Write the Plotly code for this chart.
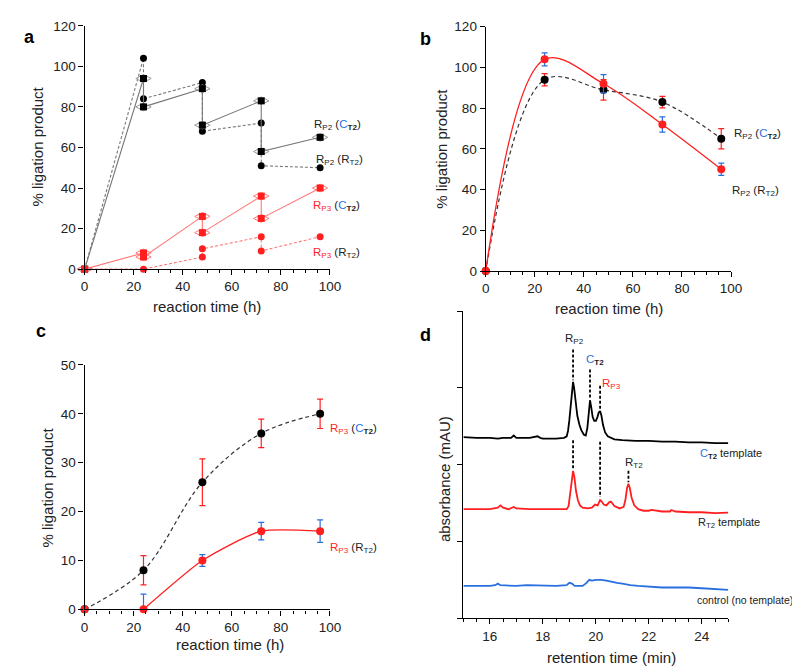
import plotly.graph_objects as go

FONT = 'Liberation Sans, Arial, sans-serif'
RED = '#ff1f1f'
LIGHT_RED = '#ff7a7a'
GREY = '#777777'
BLUE = '#2a6fe0'

# panel a: each time point is visited twice (zigzag)
a_sq_black_t = [0, 24, 24, 48, 48, 72, 72, 96]
a_sq_black_y = [0, 94, 80, 89, 71, 83, 58, 65]
a_ci_black_t = [0, 24, 24, 48, 48, 72, 72, 96]
a_ci_black_y = [0, 104, 84, 92, 68, 72, 51, 50]
a_sq_red_t = [0, 24, 24, 48, 48, 72, 72, 96]
a_sq_red_y = [0, 8, 6, 26, 18, 36, 25, 40]
a_ci_red_t = [0, 24, 48, 48, 72, 72, 96]
a_ci_red_y = [0, 0, 6, 10, 16, 9, 16]

# panel b
b_t = [0, 24, 48, 72, 96]
b_ct2 = [0, 94, 89, 83, 65]
b_ct2_err = [0, 3, 5, 2.8, 5]
b_rt2 = [0, 104, 92, 72, 50]
b_rt2_err = [0, 3.2, 4.5, 3.7, 3]

# panel c
c_t = [0, 24, 48, 72, 96]
c_ct2 = [0, 8, 26, 36, 40]
c_ct2_err = [0, 3, 4.8, 2.9, 3]
c_rt2_t = [24, 48, 72, 96]
c_rt2 = [0, 10, 16, 16]
c_rt2_err_plus = [3.1, 1.2, 1.8, 2.3]
c_rt2_err_minus = [0, 1.2, 1.8, 2.3]

# panel d chromatograms (retention time in min, absorbance in arbitrary units)
d_black_t = [15.0, 15.5, 16.0, 16.3, 16.5, 16.8, 16.9, 17.0, 17.5, 17.8, 17.9, 18.0,
             18.5, 18.8, 18.9, 18.95, 19.0, 19.05, 19.1, 19.14, 19.18, 19.23, 19.3,
             19.38, 19.45, 19.55, 19.62, 19.68, 19.73, 19.78, 19.83, 19.88, 19.94,
             20.0, 20.06, 20.11, 20.16, 20.21, 20.27, 20.35, 20.45, 20.55, 20.7,
             21.0, 21.5, 22.0, 22.5, 23.0, 23.5, 24.0, 24.5, 25.0]
d_black_y = [2.36, 2.35, 2.35, 2.34, 2.35, 2.35, 2.38, 2.35, 2.35, 2.37, 2.35, 2.34,
             2.34, 2.35, 2.37, 2.44, 2.58, 2.80, 3.00, 3.08, 3.00, 2.82, 2.64,
             2.52, 2.45, 2.39, 2.38, 2.48, 2.68, 2.84, 2.74, 2.62, 2.57,
             2.57, 2.62, 2.68, 2.70, 2.64, 2.52, 2.42, 2.37, 2.35, 2.33,
             2.32, 2.31, 2.31, 2.30, 2.30, 2.29, 2.29, 2.28, 2.28]
d_red_t = [15.0, 15.5, 16.0, 16.3, 16.4, 16.5, 16.7, 16.9, 17.0, 17.5, 18.0, 18.5,
           18.9, 18.97, 19.03, 19.08, 19.14, 19.19, 19.25, 19.32, 19.4, 19.5, 19.7,
           19.85, 19.97, 20.07, 20.16, 20.22, 20.3, 20.4, 20.5, 20.57, 20.7, 20.9,
           21.05, 21.12, 21.18, 21.23, 21.28, 21.35, 21.45, 21.6, 21.8, 22.0, 22.1,
           22.5, 22.8, 22.85, 23.0, 23.5, 24.0, 24.5, 25.0]
d_red_y = [1.42, 1.42, 1.42, 1.44, 1.47, 1.44, 1.42, 1.45, 1.43, 1.42, 1.42, 1.42,
           1.42, 1.46, 1.62, 1.82, 1.92, 1.84, 1.66, 1.54, 1.47, 1.44, 1.43,
           1.44, 1.48, 1.47, 1.54, 1.52, 1.48, 1.47, 1.51, 1.52, 1.46, 1.43,
           1.45, 1.55, 1.70, 1.75, 1.70, 1.57, 1.47, 1.42, 1.40, 1.40, 1.41,
           1.39, 1.39, 1.41, 1.39, 1.38, 1.38, 1.37, 1.375]
d_blue_t = [15.0, 15.5, 16.0, 16.2, 16.3, 16.4, 16.8, 17.0, 17.4, 18.0, 18.5, 18.9,
            19.0, 19.1, 19.2, 19.5, 19.65, 19.75, 19.85, 20.0, 20.2, 20.4, 20.6,
            20.8, 21.0, 21.3, 21.6, 22.0, 22.5, 23.0, 23.5, 24.0, 24.5, 25.0]
d_blue_y = [0.42, 0.42, 0.42, 0.43, 0.45, 0.43, 0.42, 0.42, 0.43, 0.42, 0.42, 0.43,
            0.46, 0.45, 0.42, 0.42, 0.46, 0.50, 0.49, 0.50, 0.50, 0.49, 0.47,
            0.46, 0.45, 0.43, 0.42, 0.41, 0.40, 0.40, 0.40, 0.39, 0.38, 0.37]

# peak marker dashed lines in d: (time, y from, y to)
d_peak_lines = [(19.14, 3.50, 3.10), (19.14, 2.32, 1.95), (19.78, 3.24, 2.86),
                (20.16, 3.03, 2.72), (20.16, 2.30, 1.58), (21.23, 1.92, 1.77)]

fig = go.Figure()


def sq_trace(t, y, line_col, mark_col, ring_col, dash, xa, ya, symbol):
    # eye-shaped outline behind the marker
    if ring_col:
        fig.add_trace(go.Scatter(
            x=t, y=y, mode='markers', xaxis=xa, yaxis=ya, cliponaxis=False,
            marker=dict(symbol='diamond-wide-open', size=11, color=ring_col,
                        line=dict(width=1, color=ring_col)),
            showlegend=False, hoverinfo='skip'))
    fig.add_trace(go.Scatter(
        x=t, y=y, mode='lines+markers', xaxis=xa, yaxis=ya, cliponaxis=False,
        line=dict(color=line_col, width=1.1, dash=dash),
        marker=dict(symbol=symbol, size=7, color=mark_col),
        showlegend=False))


# panel a
sq_trace(a_ci_black_t, a_ci_black_y, GREY, 'black', None, '3px,2px', 'x', 'y', 'circle')
sq_trace(a_sq_black_t, a_sq_black_y, GREY, 'black', '#999999', 'solid', 'x', 'y', 'square')
sq_trace(a_ci_red_t, a_ci_red_y, LIGHT_RED, RED, None, '3px,2px', 'x', 'y', 'circle')
sq_trace(a_sq_red_t, a_sq_red_y, LIGHT_RED, RED, LIGHT_RED, 'solid', 'x', 'y', 'square')

# panel b
fig.add_trace(go.Scatter(
    x=b_t, y=b_ct2, mode='lines+markers', xaxis='x2', yaxis='y2', cliponaxis=False,
    line=dict(color='#333333', width=1.2, dash='4px,3px', shape='spline'),
    marker=dict(color='black', size=8),
    error_y=dict(type='data', array=b_ct2_err, color=RED, thickness=1.2, width=3),
    showlegend=False))
fig.add_trace(go.Scatter(
    x=b_t, y=b_rt2, mode='lines+markers', xaxis='x2', yaxis='y2', cliponaxis=False,
    line=dict(color=RED, width=1.3, shape='spline'),
    marker=dict(color=RED, size=8),
    error_y=dict(type='data', array=b_rt2_err, color=BLUE, thickness=1.2, width=3),
    showlegend=False))

# panel c
fig.add_trace(go.Scatter(
    x=c_t, y=c_ct2, mode='lines+markers', xaxis='x3', yaxis='y3', cliponaxis=False,
    line=dict(color='#333333', width=1.2, dash='4px,3px', shape='spline'),
    marker=dict(color='black', size=8),
    error_y=dict(type='data', array=c_ct2_err, color=RED, thickness=1.2, width=3),
    showlegend=False))
fig.add_trace(go.Scatter(
    x=c_rt2_t, y=c_rt2, mode='lines+markers', xaxis='x3', yaxis='y3', cliponaxis=False,
    line=dict(color=RED, width=1.3, shape='spline', smoothing=0.6),
    marker=dict(color=RED, size=8),
    error_y=dict(type='data', array=c_rt2_err_plus, arrayminus=c_rt2_err_minus,
                 color=BLUE, thickness=1.2, width=3),
    showlegend=False))
fig.add_trace(go.Scatter(
    x=[0], y=[0], mode='markers', xaxis='x3', yaxis='y3', cliponaxis=False,
    marker=dict(color=RED, size=8), showlegend=False))

# panel d
for t, y, col in [(d_black_t, d_black_y, 'black'), (d_red_t, d_red_y, RED),
                  (d_blue_t, d_blue_y, BLUE)]:
    fig.add_trace(go.Scatter(
        x=t, y=y, mode='lines', xaxis='x4', yaxis='y4',
        line=dict(color=col, width=1.8), showlegend=False))
for t, y0, y1 in d_peak_lines:
    fig.add_trace(go.Scatter(
        x=[t, t], y=[y0, y1], mode='lines', xaxis='x4', yaxis='y4',
        line=dict(color='black', width=1.8, dash='3px,2px'), showlegend=False))

axis_style = dict(showline=True, linecolor='black', linewidth=1.3, ticks='outside',
                  ticklen=5, tickcolor='black', showgrid=False, zeroline=False,
                  tickfont=dict(size=13.5, color='#222222', family=FONT))
minor_x = dict(ticks='outside', ticklen=3, dtick=5, tickcolor='black')

fig.update_layout(
    width=800, height=668, margin=dict(l=0, r=0, t=0, b=0),
    paper_bgcolor='white', plot_bgcolor='white',
    font=dict(family=FONT, color='#222222'),
    xaxis=dict(domain=[0.0925, 0.405], range=[0, 100], dtick=20, minor=minor_x,
               anchor='y', **axis_style),
    yaxis=dict(domain=[0.6108, 0.9835], range=[0, 120], dtick=20, anchor='x',
               **axis_style),
    xaxis2=dict(domain=[0.6035, 0.916], range=[0, 100], dtick=20, minor=minor_x,
                anchor='y2', **axis_style),
    yaxis2=dict(domain=[0.6078, 0.982], range=[0, 120], dtick=20, anchor='x2',
                **axis_style),
    xaxis3=dict(domain=[0.0925, 0.405], range=[0, 100], dtick=20, minor=minor_x,
                anchor='y3', **axis_style),
    yaxis3=dict(domain=[0.0898, 0.4641], range=[0, 50], dtick=10, anchor='x3',
                **axis_style),
    xaxis4=dict(domain=[0.575, 0.9125], range=[15, 25], dtick=2,
                minor=dict(ticks='outside', ticklen=3, dtick=0.5, tickcolor='black'),
                anchor='y4', **axis_style),
    yaxis4=dict(domain=[0.0763, 0.5464], range=[0, 4], tickvals=[0, 1, 2, 3, 4],
                showticklabels=False, anchor='x4', **axis_style),
)

ann = []


def text(x, y, s, xref='paper', yref='paper', size=15, angle=0, xanchor='center',
         color='#222222', bold=False):
    ann.append(dict(x=x, y=y, xref=xref, yref=yref, text=('<b>%s</b>' % s) if bold else s,
                    showarrow=False, textangle=angle, xanchor=xanchor, yanchor='middle',
                    font=dict(size=size, color=color, family=FONT)))


def px(xp, yp):
    return xp / 800, 1 - yp / 668


# panel letters
for letter, (xp, yp) in [('a', (18, 22)), ('b', (421, 25)), ('c', (30, 323)), ('d', (421, 327))]:
    text(*px(xp, yp), letter, size=18, bold=True, color='black')

# axis titles
text(*px(26, 135), '% ligation product', angle=-90)
text(*px(199, 298), 'reaction time (h)')
text(*px(438, 137), '% ligation product', angle=-90)
text(*px(608, 300), 'reaction time (h)')
text(*px(36, 483), '% ligation product', angle=-90)
text(*px(222, 644), 'reaction time (h)')
text(*px(441, 475), 'absorbance (mAU)', angle=-90)
text(*px(611, 657), 'retention time (min)')

C_T2 = "<span style='color:%s'>C</span><sub><b>T2</b></sub>" % BLUE
R_T2 = 'R<sub>T2</sub>'
R_P2 = 'R<sub>P2</sub>'
R_P3 = "<span style='color:%s'>R<sub>P3</sub></span>" % RED

# series labels, placed in page pixels (left edge, middle)
series_labels = [
    ((306, 113), R_P2 + ' (' + C_T2 + ')'),
    ((308, 148), R_P2 + ' (' + R_T2 + ')'),
    ((305, 195), R_P3 + ' (' + C_T2 + ')'),
    ((305, 243), R_P3 + ' (' + R_T2 + ')'),
    ((734, 122), R_P2 + ' (' + C_T2 + ')'),
    ((732, 180), R_P2 + ' (' + R_T2 + ')'),
    ((322, 424), R_P3 + ' (' + C_T2 + ')'),
    ((322, 545), R_P3 + ' (' + R_T2 + ')'),
]
for (xp, yp), s in series_labels:
    text(*px(xp, yp), s, size=11.5, xanchor='left')

# panel d labels
text(19.2, 3.64, R_P2, 'x4', 'y4', 11.5)
text(19.95, 3.36, C_T2, 'x4', 'y4', 11.5)
text(20.6, 3.05, R_P3, 'x4', 'y4', 11.5)
text(21.45, 2.02, R_T2, 'x4', 'y4', 11.5)
text(*px(766, 449), C_T2 + ' template', size=11, xanchor='right')
text(*px(764, 520), R_T2 + ' template', size=11, xanchor='right')
text(*px(798, 598), 'control (no template)', size=10.5, xanchor='right')

fig.update_layout(annotations=ann)
fig.write_html('out.html')
